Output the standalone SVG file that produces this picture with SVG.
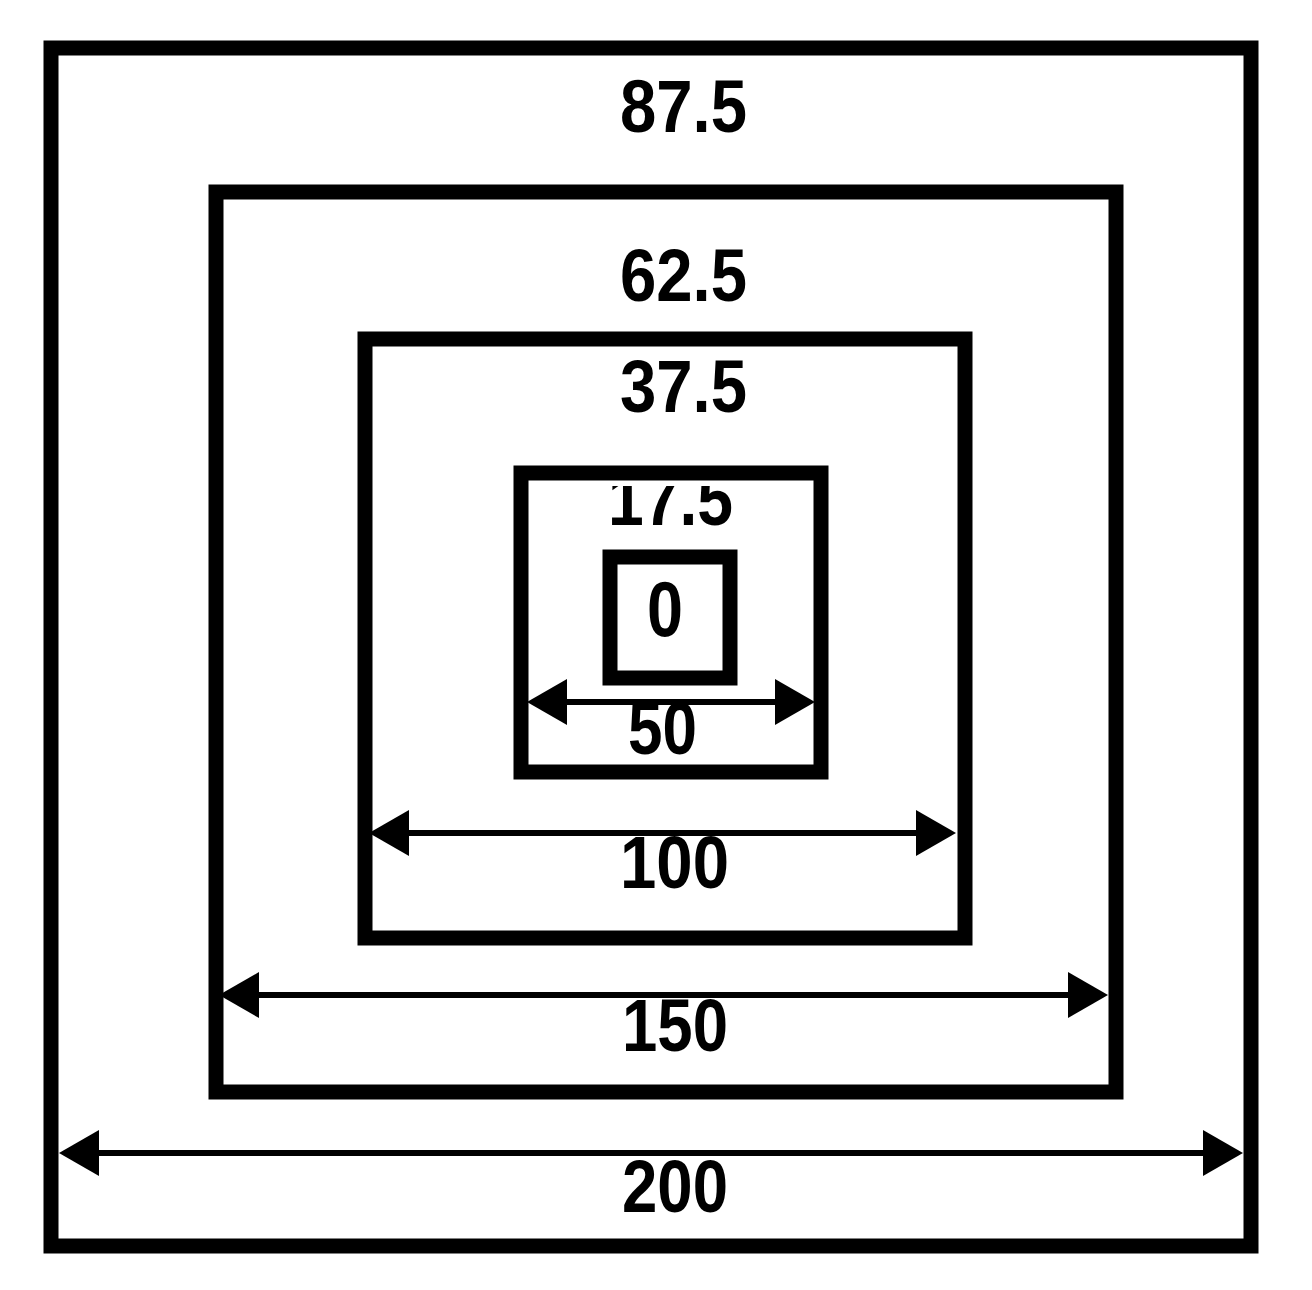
<svg xmlns="http://www.w3.org/2000/svg" width="1312" height="1290" viewBox="0 0 1312 1290">
  <style>
    .sq { fill: none; stroke: #000; stroke-width: 15; }
    .lbl { font-family: "Liberation Sans", Arial, sans-serif; font-weight: bold; font-size: 74px; fill: #000; }
    .dim { stroke: #000; stroke-width: 6; fill: none; marker-start: url(#ah); marker-end: url(#ah); }
  </style>
  <defs>
    <marker id="ah" viewBox="0 0 40 46" refX="0" refY="23" markerWidth="40" markerHeight="46" markerUnits="userSpaceOnUse" orient="auto-start-reverse">
      <path d="M0,0 L40,23 L0,46 Z" fill="#000"/>
    </marker>
    <clipPath id="clip175">
      <rect x="560" y="486" width="240" height="60"/>
    </clipPath>
  </defs>
  <rect width="1312" height="1290" fill="#fff"/>

  <g id="square-200">
    <rect class="sq" x="51" y="48" width="1200" height="1198"/>
    <text class="lbl" x="620" y="132" textLength="127" lengthAdjust="spacingAndGlyphs">87.5</text>
  </g>
  <g id="square-150">
    <rect class="sq" x="216" y="192" width="900" height="900"/>
    <text class="lbl" x="620" y="301" textLength="127" lengthAdjust="spacingAndGlyphs">62.5</text>
  </g>
  <g id="square-100">
    <rect class="sq" x="365" y="339" width="600" height="599"/>
    <text class="lbl" x="620" y="412" textLength="127" lengthAdjust="spacingAndGlyphs">37.5</text>
  </g>
  <g id="square-50">
    <rect class="sq" x="521" y="473" width="300" height="299"/>
    <text class="lbl" x="608" y="525" textLength="125" lengthAdjust="spacingAndGlyphs" clip-path="url(#clip175)">17.5</text>
  </g>
  <g id="square-0">
    <rect class="sq" x="610" y="557" width="120" height="121"/>
    <text class="lbl" x="647" y="636" textLength="36" lengthAdjust="spacingAndGlyphs" style="font-size:78px">0</text>
  </g>

  <g id="connectors">
    <path class="dim" d="M567,702 L775,702"/>
    <path class="dim" d="M409,833 L916,833"/>
    <path class="dim" d="M259,995 L1068,995"/>
    <path class="dim" d="M99,1153 L1203,1153"/>
  </g>

  <g id="dimension-labels">
    <text class="lbl" x="628" y="754" textLength="69" lengthAdjust="spacingAndGlyphs">50</text>
    <text class="lbl" x="620" y="888" textLength="109" lengthAdjust="spacingAndGlyphs">100</text>
    <text class="lbl" x="622" y="1051" textLength="106" lengthAdjust="spacingAndGlyphs">150</text>
    <text class="lbl" x="622" y="1212" textLength="106" lengthAdjust="spacingAndGlyphs">200</text>
  </g>
</svg>
